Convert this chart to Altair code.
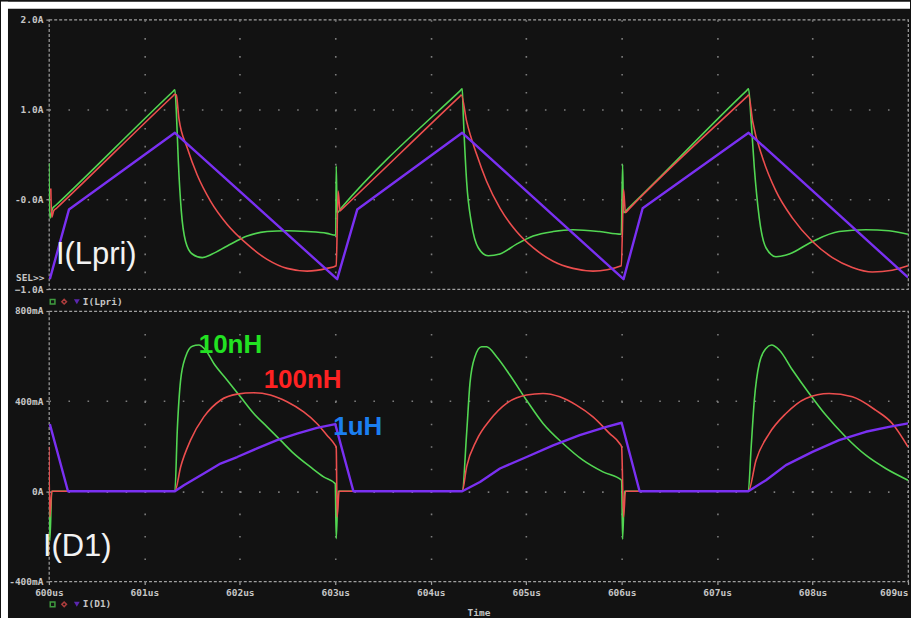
import altair as alt
import pandas as pd

# ---- primary inductor current I(Lpri), amps: (time in us, current) per leakage value ----
LPRI_10NH = [
    (600.00, 0.40), (600.01, -0.21), (600.04, -0.10), (600.07, -0.07), (601.30, 1.20),
    (601.32, 1.22), (601.335, 0.98), (601.356, 0.42), (601.387, -0.13), (601.432, -0.47),
    (601.502, -0.61), (601.607, -0.65), (601.711, -0.61), (601.868, -0.52), (602.077, -0.41),
    (602.286, -0.36), (602.495, -0.35), (602.704, -0.36), (602.913, -0.38), (603.005, -0.40),
    (603.01, 0.37), (603.02, -0.15), (603.06, -0.10), (604.31, 1.21), (604.33, 1.23),
    (604.341, 0.94), (604.376, 0.20), (604.429, -0.28), (604.498, -0.54), (604.602, -0.63),
    (604.725, -0.61), (604.899, -0.50), (605.073, -0.41), (605.282, -0.36), (605.491, -0.34),
    (605.770, -0.36), (605.997, -0.39), (606.01, 0.39), (606.02, -0.15), (606.07, -0.10),
    (607.31, 1.21), (607.33, 1.23), (607.355, 0.90), (607.390, 0.35), (607.442, -0.21),
    (607.512, -0.54), (607.617, -0.64), (607.756, -0.61), (607.999, -0.47), (608.278, -0.36),
    (608.558, -0.34), (608.801, -0.35), (609.0, -0.39),
]
LPRI_100NH = [
    (600.02, 0.12), (600.03, -0.20), (600.05, -0.13), (600.08, -0.10), (601.30, 1.15),
    (601.32, 1.17), (601.335, 1.16), (601.362, 0.90), (601.450, 0.57), (601.554, 0.27),
    (601.693, -0.02), (601.868, -0.28), (602.077, -0.50), (602.286, -0.67), (602.495, -0.77),
    (602.704, -0.80), (602.913, -0.77), (603.010, -0.74), (603.03, 0.09), (603.05, -0.13),
    (603.07, -0.11), (604.30, 1.14), (604.32, 1.16), (604.376, 0.87), (604.481, 0.50),
    (604.585, 0.20), (604.725, -0.10), (604.899, -0.36), (605.073, -0.54), (605.282, -0.69),
    (605.491, -0.77), (605.700, -0.80), (605.997, -0.74), (606.02, 0.11), (606.04, -0.15),
    (606.076, -0.11), (607.31, 1.14), (607.33, 1.16), (607.372, 0.87), (607.477, 0.46),
    (607.617, 0.09), (607.790, -0.21), (607.999, -0.47), (608.208, -0.65), (608.417, -0.76),
    (608.626, -0.81), (608.835, -0.79), (609.0, -0.74),
]
LPRI_1UH = [
    (600.01, -0.89), (600.21, -0.115), (601.32, 0.74), (603.02, -0.89), (603.23, -0.115),
    (604.33, 0.74), (606.02, -0.89), (606.22, -0.10), (607.33, 0.74), (609.0, -0.87),
]

# ---- output diode current I(D1), milliamps ----
D1_10NH = [
    (600.00, 60), (600.01, -220), (600.03, 0), (601.32, 0), (601.345, 271), (601.380, 493),
    (601.432, 597), (601.502, 644), (601.571, 649), (601.641, 627), (601.728, 567),
    (601.868, 493), (602.007, 419), (602.146, 345), (602.286, 286), (602.425, 227),
    (602.564, 168), (602.739, 108), (602.878, 64), (603.0, 34), (603.01, -210), (603.03, 0),
    (604.33, 0), (604.376, 256), (604.411, 479), (604.463, 597), (604.533, 641), (604.585, 641),
    (604.690, 597), (604.829, 516), (605.004, 404), (605.177, 301), (605.386, 212),
    (605.595, 138), (605.804, 86), (606.0, 49), (606.01, -213), (606.03, 0), (607.327, 0),
    (607.355, 182), (607.390, 404), (607.442, 567), (607.512, 634), (607.571, 649),
    (607.651, 627), (607.790, 538), (607.965, 434), (608.139, 338), (608.348, 241),
    (608.558, 160), (608.767, 101), (609.0, 49),
]
D1_100NH = [
    (600.00, 197), (600.01, -114), (600.03, 0), (601.32, 0), (601.380, 108), (601.484, 227),
    (601.623, 330), (601.798, 404), (601.972, 431), (602.146, 437), (602.320, 427),
    (602.495, 397), (602.669, 352), (602.808, 301), (602.913, 249), (603.0, 204),
    (603.01, 197), (603.02, -114), (603.04, 0), (604.33, 0), (604.376, 108), (604.481, 227),
    (604.620, 316), (604.794, 390), (605.004, 427), (605.177, 434), (605.352, 419),
    (605.526, 382), (605.700, 330), (605.875, 256), (605.979, 212), (606.0, 197),
    (606.02, -114), (606.04, 0), (607.327, 0), (607.408, 138), (607.546, 256),
    (607.721, 345), (607.930, 412), (608.174, 434), (608.417, 419), (608.661, 360),
    (608.835, 301), (609.0, 197),
]
D1_1UH = [
    (600.01, 298), (600.20, 0), (601.32, 0), (601.414, 27), (601.623, 79), (601.798, 123),
    (601.972, 152), (602.181, 190), (602.390, 227), (602.599, 256), (602.808, 281),
    (603.0, 298), (603.19, 0), (604.33, 0), (604.516, 41), (604.725, 101), (605.004, 152),
    (605.282, 204), (605.561, 249), (605.840, 286), (606.0, 304), (606.188, 0),
    (607.327, 0), (607.512, 49), (607.721, 116), (607.999, 175), (608.278, 227),
    (608.558, 264), (608.801, 286), (609.0, 301),
]

SERIES = ["10nH", "100nH", "1uH"]
TIME_TICKS = list(range(600, 610))
LPRI_TICKS = [-1, 0, 1, 2]
D1_TICKS = [-400, 0, 400, 800]

# ---- styling ----
BG = "#121212"
FRAME = "#a0a0a0"
GRID = "#7c7c7c"
TEXT = "#c6c6c6"
TRACE_COLOR = {"10nH": "#52d652", "100nH": "#ec4e4e", "1uH": "#7a30f2"}
TRACE_WIDTH = {"10nH": 1.6, "100nH": 1.6, "1uH": 2.4}
# smooth curves for the resonant traces, straight segments for the 1uH trace
TRACE_CURVE = {"10nH": "monotone", "100nH": "monotone", "1uH": "linear"}
NOTE_COLOR = {"10nH": "#22e222", "100nH": "#ff2222", "1uH": "#1b7ff0"}
MONO = "DejaVu Sans Mono"
SANS = "Liberation Sans"

W = 861
H_TOP = 270
H_BOT = 271

x_scale = alt.Scale(domain=[600, 609], nice=False, zero=False)
edge_time = {"condition": {"test": "datum.value <= 600 || datum.value >= 609", "value": 0}, "value": 1}


def frame(pairs, name):
    return pd.DataFrame({
        "t": [p[0] for p in pairs],
        "v": [p[1] for p in pairs],
        "i": list(range(len(pairs))),
        "series": name,
    })


def traces(data, y_scale, x_axis, y_axis):
    layers = []
    for name in SERIES:
        layers.append(
            alt.Chart(frame(data[name], name))
            .mark_line(color=TRACE_COLOR[name], strokeWidth=TRACE_WIDTH[name],
                       interpolate=TRACE_CURVE[name], strokeJoin="round", clip=True)
            .encode(
                x=alt.X("t:Q", scale=x_scale, axis=x_axis),
                y=alt.Y("v:Q", scale=y_scale, axis=y_axis),
                order=alt.Order("i:Q"),
            )
        )
    return layers


def one_text(label, **mark):
    return alt.Chart(pd.DataFrame({"label": [label]})).mark_text(**mark)


def trace_key(y, label):
    shapes = [("10nH", "square", 3.7, 22), ("100nH", "diamond", 15.3, 22), ("1uH", "triangle-down", 28, 34)]
    marks = []
    for name, shape, x, size in shapes:
        marks.append(
            alt.Chart(pd.DataFrame({"series": [name]}))
            .mark_point(shape=shape, filled=(name == "1uH"), color=TRACE_COLOR[name],
                        size=size, strokeWidth=1.5)
            .encode(x=alt.value(x), y=alt.value(y))
        )
    marks.append(
        one_text(label, align="left", baseline="middle", font=MONO, fontWeight="bold",
                 fontSize=9.5, color=TEXT)
        .encode(text="label:N", x=alt.value(34), y=alt.value(y))
    )
    return marks


# ---- upper panel: I(Lpri) ----
top_x_axis = alt.Axis(values=list(range(601, 609)), labels=False, ticks=False, domain=False,
                      title=None, grid=True, gridColor=GRID, gridWidth=1.6, gridDash=[1.6, 16.4])
top_y_axis = alt.Axis(values=LPRI_TICKS, title=None, domain=False, tickSize=3, labelPadding=3,
                      labelExpr="datum.value == 0 ? '-0.0A' : format(datum.value, '.1f') + 'A'",
                      grid=True, gridColor=GRID, gridWidth=1.6, gridDash=[1.6, 17.5],
                      gridOpacity={"condition": {"test": "datum.value <= -1 || datum.value >= 2",
                                                 "value": 0}, "value": 1})
top_layers = traces({"10nH": LPRI_10NH, "100nH": LPRI_100NH, "1uH": LPRI_1UH},
                    alt.Scale(domain=[-1, 2], nice=False, zero=False), top_x_axis, top_y_axis)

top_layers.append(
    one_text("I(Lpri)", align="left", baseline="alphabetic", font=SANS, fontSize=31, color="#f2f2f2")
    .encode(text="label:N", x=alt.value(7), y=alt.value(245))
)
top_layers.append(
    one_text("SEL>>", align="left", baseline="middle", font=MONO, fontWeight="bold",
             fontSize=9.5, color=TEXT)
    .encode(text="label:N", x=alt.value(-33), y=alt.value(259))
)
top_layers += trace_key(282.7, "I(Lpri)")

# window border strips along the top and left edges
top_layers.append(
    alt.Chart(pd.DataFrame({"edge": ["top"]})).mark_rect(color="#ffffff")
    .encode(x=alt.value(-48), x2=alt.value(W + 2), y=alt.value(-18), y2=alt.value(-11))
)
top_layers.append(
    alt.Chart(pd.DataFrame({"edge": ["left"]})).mark_rect(color="#ffffff")
    .encode(x=alt.value(-48), x2=alt.value(-41), y=alt.value(-18), y2=alt.value(600))
)

top = alt.layer(*top_layers).properties(width=W, height=H_TOP)

# ---- lower panel: I(D1) ----
bot_x_axis = alt.Axis(values=TIME_TICKS, title="Time", labelExpr="datum.value + 'us'",
                      domain=False, tickSize=3, labelPadding=3.5, titleY=31,
                      titleBaseline="middle",
                      labelAlign={"condition": {"test": "datum.value >= 609", "value": "right"},
                                  "value": "center"},
                      grid=True, gridColor=GRID, gridWidth=1.6, gridDash=[1.6, 20.9],
                      gridOpacity=edge_time)
bot_y_axis = alt.Axis(values=D1_TICKS, title=None, domain=False, tickSize=3, labelPadding=3,
                      labelExpr="datum.value == 0 ? '0A' : datum.value + 'mA'",
                      grid=True, gridColor=GRID, gridWidth=1.6, gridDash=[1.6, 17.5],
                      gridOpacity={"condition": {"test": "datum.value <= -400 || datum.value >= 800",
                                                 "value": 0}, "value": 1})
bot_layers = traces({"10nH": D1_10NH, "100nH": D1_100NH, "1uH": D1_1UH},
                    alt.Scale(domain=[-400, 800], nice=False, zero=False), bot_x_axis, bot_y_axis)

note_spots = {"10nH": (601.57, 615), "100nH": (602.25, 458), "1uH": (602.98, 249)}
for name in SERIES:
    tx, ty = note_spots[name]
    bot_layers.append(
        one_text(name, align="left", baseline="alphabetic", font=SANS, fontWeight="bold",
                 fontSize=26, color=NOTE_COLOR[name])
        .encode(text="label:N", x=alt.datum(tx), y=alt.datum(ty))
    )

bot_layers.append(
    one_text("I(D1)", align="left", baseline="alphabetic", font=SANS, fontSize=31, color="#f2f2f2")
    .encode(text="label:N", x=alt.value(-6), y=alt.value(246))
)
bot_layers += trace_key(294, "I(D1)")
# transparent marker that reserves the strip below the time axis
bot_layers.append(
    alt.Chart(pd.DataFrame({"edge": ["bottom"]})).mark_rule(opacity=0)
    .encode(x=alt.value(0), x2=alt.value(1), y=alt.value(H_BOT + 37))
)

bottom = alt.layer(*bot_layers).properties(width=W, height=H_BOT)

chart = (
    alt.vconcat(top, bottom, spacing=22, bounds="flush")
    .properties(padding=0, background=BG)
    .configure_view(stroke=FRAME, strokeDash=[3, 2], strokeWidth=1.2, fill=BG)
    .configure_axis(labelFont=MONO, labelFontWeight="bold", labelFontSize=9.5, labelColor=TEXT,
                    tickColor=FRAME, tickWidth=1.2, titleFont=MONO, titleFontWeight="bold",
                    titleFontSize=9.5, titleColor=TEXT)
)

chart.save("out.html", embed_options={"renderer": "svg", "actions": False})
